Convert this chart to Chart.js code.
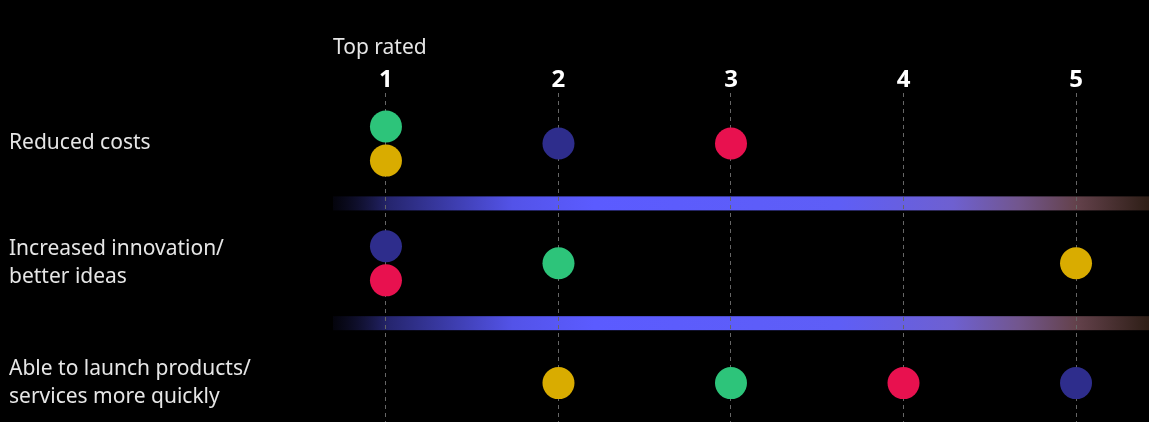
<!DOCTYPE html>
<html>
<head>
<meta charset="utf-8">
<script src="https://cdn.jsdelivr.net/npm/chart.js@4.4.1/dist/chart.umd.min.js"></script>
<style>
  html, body { margin: 0; padding: 0; background: #000; }
  canvas { display: block; }
</style>
</head>
<body>
<canvas id="rankChart" width="1149" height="422"></canvas>
<script>
// --- data ---
const categories = [
  ["Reduced costs"],
  ["Increased innovation/", "better ideas"],
  ["Able to launch products/", "services more quickly"]
];
const rankLabels = ["1", "2", "3", "4", "5"];

// rank given by each group, one entry per category (row)
const greenRanks = [1, 2, 3];
const yellowRanks = [1, 5, 2];
const navyRanks = [2, 1, 5];
const redRanks = [3, 1, 4];

const seriesNames = ["Green group", "Yellow group", "Navy group", "Red group"];
const seriesColors = ["#2dc47a", "#d9ac00", "#2e2d8c", "#e8114f"];
const allRanks = [greenRanks, yellowRanks, navyRanks, redRanks];

const FONT = "'Noto Sans', 'DejaVu Sans', sans-serif";

// dodge dots that share the same rank in the same row
const STACK_GAP = 0.285;
const datasets = allRanks.map((ranks, s) => {
  const points = ranks.map((rank, row) => {
    const sharing = allRanks.map((r, i) => i).filter(i => allRanks[i][row] === rank);
    const idx = sharing.indexOf(s);
    const offset = (idx - (sharing.length - 1) / 2) * STACK_GAP;
    return { x: rank, y: row + offset };
  });
  return {
    label: seriesNames[s],
    data: points,
    backgroundColor: seriesColors[s],
    borderWidth: 0,
    pointRadius: 16,
    pointHoverRadius: 16
  };
});

// gradient separator bands between rows, drawn under the grid
const separatorPlugin = {
  id: "separators",
  beforeDraw(chart) {
    const { ctx, chartArea, scales: { y } } = chart;
    const left = chartArea.left;
    const right = chart.width;
    const grad = ctx.createLinearGradient(left, 0, right, 0);
    grad.addColorStop(0, "rgba(20,20,60,0.2)");
    grad.addColorStop(0.07, "#262670");
    grad.addColorStop(0.22, "#5353e8");
    grad.addColorStop(0.32, "#5b5bff");
    grad.addColorStop(0.62, "#5e5ef6");
    grad.addColorStop(0.76, "#6e60d0");
    grad.addColorStop(0.84, "#72568e");
    grad.addColorStop(0.91, "#64424c");
    grad.addColorStop(1, "#2e1e16");
    ctx.save();
    ctx.fillStyle = grad;
    for (let i = 0; i < categories.length - 1; i++) {
      const py = y.getPixelForValue(i + 0.5);
      ctx.fillRect(left, py - 7, right - left, 14);
    }
    ctx.restore();
  }
};

new Chart(document.getElementById("rankChart"), {
  type: "scatter",
  data: { datasets },
  plugins: [separatorPlugin],
  options: {
    responsive: false,
    animation: false,
    events: [],
    layout: { padding: { left: 9, right: 0, top: 0, bottom: 0 }, autoPadding: false },
    plugins: { legend: { display: false }, tooltip: { enabled: false } },
    scales: {
      x: {
        type: "linear",
        position: "top",
        min: 0.693,
        max: 5.423,
        afterBuildTicks: (scale) => { scale.ticks = rankLabels.map((l, i) => ({ value: i + 1 })); },
        afterFit: (scale) => {
          scale.height = 93;
          scale.paddingLeft = 0;
          scale.paddingRight = 0;
        },
        ticks: {
          color: "#ffffff",
          padding: -2,
          font: { family: FONT, size: 24, weight: "bold" },
          callback: (v) => rankLabels[v - 1]
        },
        grid: { color: "#666666", lineWidth: 1, drawTicks: false },
        border: { display: false, dash: [4, 4] },
        title: {
          display: true,
          text: "Top rated",
          align: "start",
          color: "#e6e6e6",
          font: { family: FONT, size: 21 },
          padding: { top: 35, bottom: 0 }
        }
      },
      y: {
        type: "linear",
        reverse: true,
        min: -0.4217,
        max: 2.325,
        afterBuildTicks: (scale) => { scale.ticks = categories.map((c, i) => ({ value: i })); },
        afterFit: (scale) => {
          scale.width = 324;
          scale.paddingTop = 0;
          scale.paddingBottom = 0;
        },
        ticks: {
          color: "#e6e6e6",
          crossAlign: "far",
          font: { family: FONT, size: 21, lineHeight: 1.33 },
          callback: (v) => categories[v]
        },
        grid: { display: false },
        border: { display: false }
      }
    }
  }
});
</script>
</body>
</html>
